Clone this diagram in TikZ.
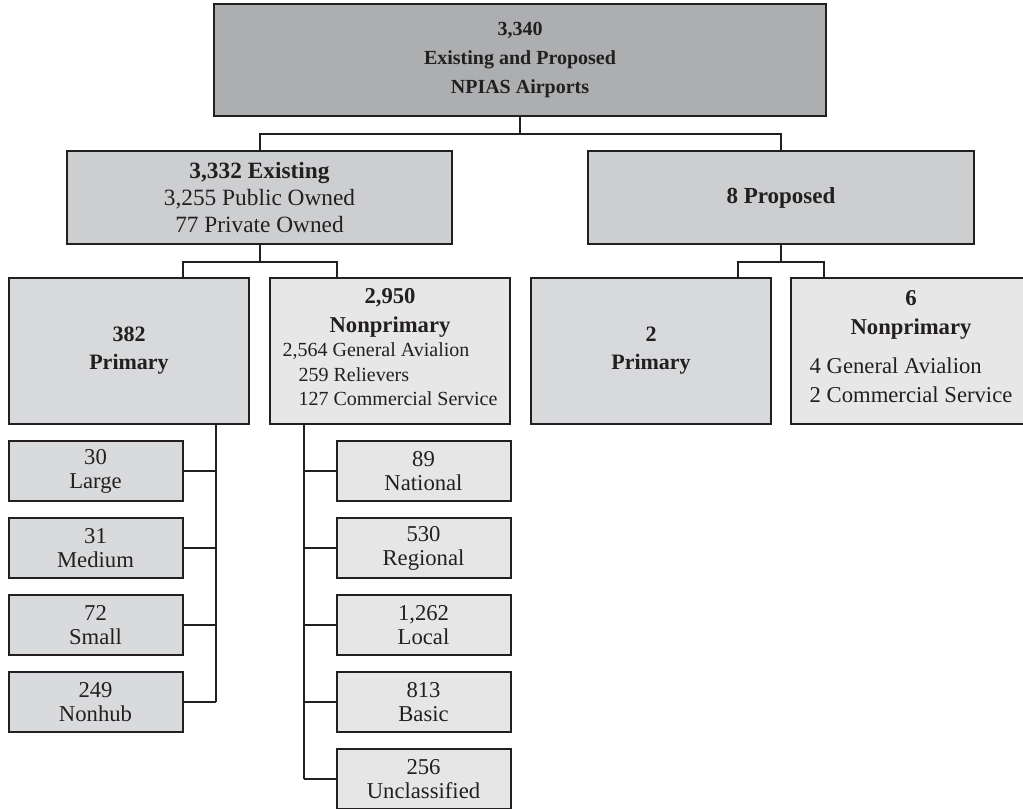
\documentclass[tikz,border=0pt]{standalone}
\usepackage{fontspec}
\setmainfont{Liberation Serif}
\usetikzlibrary{calc}

\definecolor{ink}{HTML}{231F20}
\definecolor{topgray}{HTML}{ADAEB0}
\definecolor{midgray}{HTML}{CDCED0}
\definecolor{primgray}{HTML}{D8D9DB}
\definecolor{nongray}{HTML}{E7E7E8}
\definecolor{hubgray}{HTML}{D9DADC}
\definecolor{rolegray}{HTML}{E6E6E7}

\tikzset{
  box/.style={draw=ink, line width=1.5pt, inner sep=0pt, text=ink, align=center},
  wire/.style={draw=ink, line width=1.5pt},
  leaf/.style={box, minimum width=130.5pt, minimum height=45pt, font=\fontsize{17}{18}\selectfont},
  tier/.style={box, minimum width=180pt, minimum height=109.5pt}
}

\begin{document}
\begin{tikzpicture}[x=0.75pt,y=0.75pt,yscale=-1]
\useasboundingbox (0,0) rectangle (1023,808);
\clip (0,0) rectangle (1023,808);

%Shape: Rectangle [top]
\node[box, fill=topgray, minimum width=459pt, minimum height=84pt, font=\fontsize{15}{21.75}\selectfont\bfseries] (top) at (520,60) {3,340\\Existing and Proposed\\NPIAS Airports};

%Shape: Rectangle [second row]
\node[box, fill=midgray, minimum width=289pt, minimum height=69.75pt, font=\fontsize{17.5}{20}\selectfont] (exist) at (259.5,197.5) {\textbf{3,332 Existing}\\3,255 Public Owned\\77 Private Owned};
\node[box, fill=midgray, minimum width=289pt, minimum height=69.75pt, font=\fontsize{17.25}{20}\selectfont\bfseries] (prop) at (781,197.5) {8 Proposed};

%Shape: Rectangle [third row]
\node[tier, fill=primgray, font=\fontsize{16.5}{21}\selectfont\bfseries] (prim) at (129,351) {382\\Primary};
\node[tier, fill=nongray, font=\fontsize{17}{21.75}\selectfont] (nonp) at (390,351) {\textbf{2,950}\\\textbf{Nonprimary}\\[0pt]\fontsize{15}{18.5}\selectfont\begin{tabular}{@{}l@{}}2,564 General Avialion\\\hspace*{12pt}259 Relievers\\\hspace*{12pt}127 Commercial Service\end{tabular}};
\node[tier, fill=primgray, font=\fontsize{16.5}{21}\selectfont\bfseries] (prim2) at (651,351) {2\\Primary};
\node[tier, fill=nongray, font=\fontsize{17}{21.75}\selectfont] (nonp6) at (911,351) {\textbf{6}\\\textbf{Nonprimary}\\[9pt]\begin{tabular}{@{}l@{}}4 General Avialion\\2 Commercial Service\end{tabular}};

%Shape: Rectangle [hub sizes]
\node[leaf, fill=hubgray] (large) at (95.5,471) {30\\Large};
\node[leaf, fill=hubgray] (medium) at (95.5,548) {31\\Medium};
\node[leaf, fill=hubgray] (small) at (95.5,625) {72\\Small};
\node[leaf, fill=hubgray] (nonhub) at (95.5,702) {249\\Nonhub};

%Shape: Rectangle [nonprimary roles]
\node[leaf, fill=rolegray] (national) at (423.5,471) {89\\National};
\node[leaf, fill=rolegray] (regional) at (423.5,548) {530\\Regional};
\node[leaf, fill=rolegray] (local) at (423.5,625) {1,262\\Local};
\node[leaf, fill=rolegray] (basic) at (423.5,702) {813\\Basic};
\node[leaf, fill=rolegray] (unclass) at (423.5,779) {256\\Unclassified};

%Straight Lines [top split]
\draw[wire] (top.south) -- ++(0,17) coordinate (j1);
\draw[wire] (exist.north) |- (j1) -| (prop.north);

%Straight Lines [existing split]
\draw[wire] (exist.south) -- ++(0,17) coordinate (j2);
\coordinate (j2l) at ($(j2)+(-77,0)$);
\coordinate (j2r) at ($(j2)+(77,0)$);
\draw[wire] (prim.north -| j2l) |- (j2r) -- (nonp.north -| j2r);

%Straight Lines [proposed split]
\draw[wire] (prop.south) -- ++(0,17) coordinate (j3);
\coordinate (j3l) at ($(j3)+(-43,0)$);
\coordinate (j3r) at ($(j3)+(43,0)$);
\draw[wire] (prim2.north -| j3l) |- (j3r) -- (nonp6.north -| j3r);

%Straight Lines [primary trunk]
\coordinate (t1) at ($(prim.south)+(87,0)$);
\draw[wire] (t1) -- (t1 |- nonhub.east);
\foreach \n in {large,medium,small,nonhub}
  \draw[wire] (\n.east) -- (\n.east -| t1);

%Straight Lines [nonprimary trunk]
\coordinate (t2) at ($(nonp.south)+(-86,0)$);
\draw[wire] (t2) -- (t2 |- unclass.west);
\foreach \n in {national,regional,local,basic,unclass}
  \draw[wire] (\n.west) -- (\n.west -| t2);

\end{tikzpicture}
\end{document}
